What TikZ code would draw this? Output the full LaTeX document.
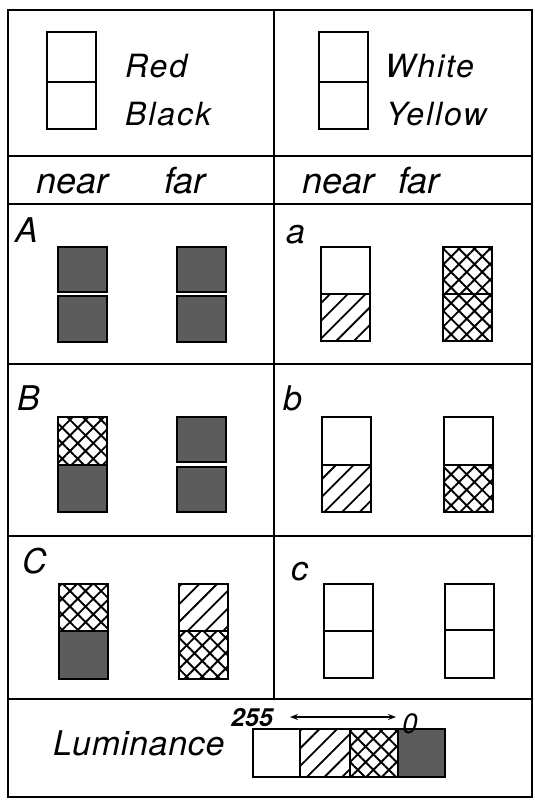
\documentclass[tikz,border=0pt]{standalone}
\usepackage{fontspec}
\setmainfont{TeX Gyre Heros}
\newfontfamily\lbl[LetterSpace=6]{TeX Gyre Heros}
\newfontfamily\lblb[LetterSpace=2]{TeX Gyre Heros}
\usetikzlibrary{patterns.meta,arrows.meta}
\tikzset{
  frame/.style={line width=2pt},
  cell/.style={draw=black,line width=1.4pt},
  darkcell/.style={cell,fill=black!64},
  hatchcell/.style={cell,pattern={Lines[angle=45,distance=12.5pt,line width=1.8pt]}},
  crosscell/.style={cell,pattern={Hatch[angle=45,distance=11pt,line width=1.9pt]}},
  emptycell/.style={cell,fill=white},
  hdr/.style={inner sep=0pt,anchor=base west,font=\lbl\itshape\fontsize{32}{36}\selectfont},
  colhd/.style={inner sep=0pt,anchor=base west,font=\itshape\fontsize{36}{40}\selectfont},
  rowlbl/.style={inner sep=0pt,anchor=base west,font=\itshape\fontsize{34}{38}\selectfont},
}
% #1 left x, #2 top, #3 mid, #4 bottom, #5 upper style, #6 lower style
\newcommand{\pairbox}[6]{%
  \path[#5] (#1,#2) rectangle (#1+49,#3);
  \path[#6] (#1,#3) rectangle (#1+49,#4);
}
\begin{document}
\begin{tikzpicture}[x=1pt,y=-1pt]
\fill[white] (0,0) rectangle (535,801);
% frame
\draw[frame] (8,10) rectangle (532,797);
\draw[frame] (274,10) -- (274,699);
\draw[frame] (8,156) -- (532,156);
\draw[frame] (8,204) -- (532,204);
\draw[frame] (8,364) -- (532,364);
\draw[frame] (8,536) -- (532,536);
\draw[frame] (8,699) -- (532,699);
% header
\pairbox{47}{32}{82}{129}{emptycell}{emptycell}
\pairbox{319}{32}{82}{129}{emptycell}{emptycell}
\node[hdr] (red) at (125,77) {Red};
\node[hdr] (black) at (125,125) {Black};
\node[hdr] (white) at (385,77) {White};
\node[hdr] (yellow) at (386,125) {Yellow};
% near / far
\node[colhd] (nearL) at (36,193) {near};
\node[colhd] (farL) at (164,193) {far};
\node[colhd] (nearR) at (302,193) {near};
\node[colhd] (farR) at (398,193) {far};
% row labels
\node[rowlbl] (lA) at (15,242) {A};
\node[rowlbl] (la) at (286,243) {a};
\node[rowlbl] (lB) at (17,410) {B};
\node[rowlbl] (lb) at (283,410) {b};
\node[rowlbl] (lC) at (22,573) {C};
\node[rowlbl] (lc) at (291,580) {c};
% row A
\path[darkcell] (58,247) rectangle (107,292);
\path[darkcell] (58,296) rectangle (107,342);
\path[darkcell] (177,247) rectangle (226,292);
\path[darkcell] (177,296) rectangle (226,342);
\pairbox{321}{247}{294}{341}{emptycell}{hatchcell}
\pairbox{443}{247}{294}{341}{crosscell}{crosscell}
% row B
\pairbox{58}{417}{465}{512}{crosscell}{darkcell}
\path[darkcell] (177,417) rectangle (226,462);
\path[darkcell] (177,467) rectangle (226,512);
\pairbox{322}{417}{465}{512}{emptycell}{hatchcell}
\pairbox{444}{417}{465}{512}{emptycell}{crosscell}
% row C
\pairbox{59}{584}{631}{679}{crosscell}{darkcell}
\pairbox{179}{584}{631}{679}{hatchcell}{crosscell}
\pairbox{324}{584}{631}{678}{emptycell}{emptycell}
\pairbox{445}{584}{630}{678}{emptycell}{emptycell}
% luminance
\node[inner sep=0pt,anchor=base west,font=\lblb\itshape\fontsize{34}{38}\selectfont] (lum) at (53,755) {Luminance};
\path[emptycell] (253,729) rectangle (300,777);
\path[hatchcell] (300,729) rectangle (350,777);
\path[crosscell] (350,729) rectangle (398,777);
\path[darkcell] (398,729) rectangle (445,777);
\node[inner sep=0pt,anchor=base west,font=\bfseries\itshape\fontsize{25}{28}\selectfont] (n255) at (231,726) {255};
\node[inner sep=0pt,anchor=base west,font=\itshape\fontsize{28}{30}\selectfont] (n0) at (402,733) {0};
\coordinate (al) at (290,717);
\coordinate (ar) at (396,717);
\draw[{Stealth[open,length=8pt,width=6pt]}-{Stealth[length=8pt,width=6pt]},line width=1.1pt] (al) -- (ar);
\end{tikzpicture}
\end{document}
